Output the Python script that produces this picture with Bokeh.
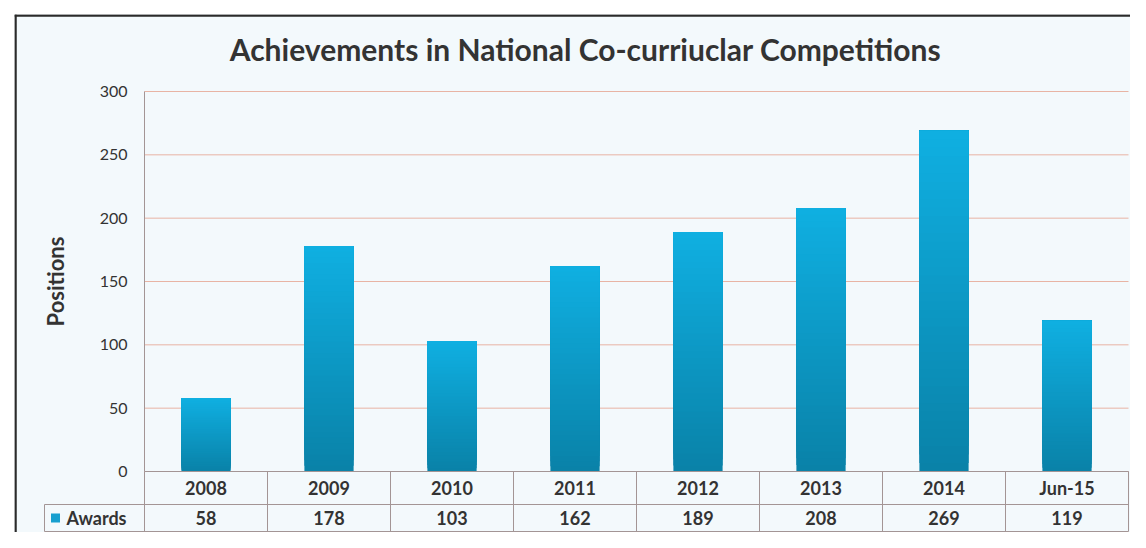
import numpy as np
from bokeh.plotting import figure
from bokeh.models import Range1d
from bokeh.core.properties import value
from bokeh.embed import file_html
from bokeh.resources import INLINE

# ---- data ----
title_text = "Achievements in National Co-curriuclar Competitions"
y_label = "Positions"
series_name = "Awards"
categories = ["2008", "2009", "2010", "2011", "2012", "2013", "2014", "Jun-15"]
awards = [58, 178, 103, 162, 189, 208, 269, 119]
y_ticks = [0, 50, 100, 150, 200, 250, 300]

# ---- style ----
FONT = "Lato"
BG = "#f3f9fc"
TEXT = "#333333"
GRID = "#e8b4a4"
TABLE_LINE = "#a39595"
FRAME_LINE = "#2a2a2a"
TOP_COLOR = np.array([16, 176, 226])
BOT_COLOR = np.array([10, 130, 168])
N_SLICES = 40
BAR_WIDTH = 0.4

# ---- layout (canvas pixels) ----
W, H = 1130, 532
PLOT_L, PLOT_R, PLOT_T, PLOT_B = 144, 1128, 91, 471     # plot area
BOX_L, BOX_T = 15, 15                                    # outer box corner
n = len(categories)
y_max = y_ticks[-1]
ux = (PLOT_R - PLOT_L) / n          # px per category
uy = (PLOT_B - PLOT_T) / y_max      # px per value unit


def cx(px):
    return (px - PLOT_L) / ux


def cy(py):
    return (PLOT_B - py) / uy


p = figure(width=W, height=H, x_range=Range1d(cx(BOX_L - 1), cx(W)), y_range=Range1d(cy(H), cy(BOX_T - 1)),
           output_backend="svg", toolbar_location=None,
           min_border_left=BOX_L - 1, min_border_right=0, min_border_top=BOX_T - 1, min_border_bottom=0,
           background_fill_color=BG, border_fill_color="#ffffff", outline_line_color=None)
p.axis.visible = False
p.grid.visible = False

# outer box (left and top edges)
p.segment(x0=[cx(BOX_L), cx(BOX_L - 1)], y0=[cy(H), cy(BOX_T)],
          x1=[cx(BOX_L), cx(W)], y1=[cy(BOX_T - 1), cy(BOX_T)],
          line_color=FRAME_LINE, line_width=2.5)

# title
p.text(x=[cx(585)], y=[cy(48)], text=[title_text], text_align="center",
       text_baseline="middle", text_font=value(FONT), text_font_size="30px", text_font_style="bold",
       text_color=TEXT)

# horizontal grid lines
p.segment(x0=[0] * len(y_ticks), y0=y_ticks, x1=[n] * len(y_ticks), y1=y_ticks,
          line_color=GRID, line_width=1)

# y tick labels and axis title
p.text(x=[cx(PLOT_L - 17)] * len(y_ticks), y=y_ticks, text=[str(v) for v in y_ticks],
       text_align="right", text_baseline="middle", text_font=value(FONT), text_font_size="16px",
       text_color=TEXT)
p.text(x=[cx(55)], y=[y_max / 2], text=[y_label], angle=np.pi / 2, text_align="center",
       text_baseline="middle", text_font=value(FONT), text_font_size="22px", text_font_style="bold",
       text_color=TEXT)

# gradient bars: overlapping slices, each from a fraction of the value up to the value
xs = np.arange(n) + 0.5
sx, sb, st, sc = [], [], [], []
for k in range(N_SLICES):
    f = (k + 0.5) / N_SLICES
    c = (BOT_COLOR + (TOP_COLOR - BOT_COLOR) * f).astype(int)
    col = "#%02x%02x%02x" % tuple(c)
    for x, v in zip(xs, awards):
        sx.append(x)
        sb.append(v * k / N_SLICES)
        st.append(v)
        sc.append(col)
p.vbar(x=sx, bottom=sb, top=st, width=BAR_WIDTH, fill_color=sc, line_color=None)

# ---- data table ----
ROW1_B, ROW2_B, TAB_L = 504, 531, 44      # canvas px
y_r1, y_r2 = cy(ROW1_B), cy(ROW2_B)
x_l = cx(TAB_L)
# horizontal lines
p.segment(x0=[0, x_l, x_l], y0=[0, y_r1, y_r2], x1=[n, n, n], y1=[0, y_r1, y_r2],
          line_color=TABLE_LINE, line_width=1)
# vertical lines (the first one continues up as the plot's left edge)
vx = list(range(n + 1))
p.segment(x0=vx, y0=[y_r2] * (n + 1), x1=vx, y1=[0] * (n + 1), line_color=TABLE_LINE, line_width=1)
p.segment(x0=[0], y0=[0], x1=[0], y1=[y_max], line_color=TABLE_LINE, line_width=1)
p.segment(x0=[x_l], y0=[y_r2], x1=[x_l], y1=[y_r1], line_color=TABLE_LINE, line_width=1)

p.text(x=xs, y=[y_r1 / 2] * n, text=categories, text_align="center", text_baseline="middle",
       text_font=value(FONT), text_font_size="18px", text_font_style="bold", text_color=TEXT)
p.text(x=xs, y=[(y_r1 + y_r2) / 2] * n, text=[str(v) for v in awards], text_align="center",
       text_baseline="middle", text_font=value(FONT), text_font_size="18px", text_font_style="bold",
       text_color=TEXT)
p.scatter(x=[cx(TAB_L + 11)], y=[(y_r1 + y_r2) / 2], marker="square", size=9,
          fill_color="#179fcf", line_color=None)
p.text(x=[cx(TAB_L + 22)], y=[(y_r1 + y_r2) / 2], text=[series_name], text_align="left",
       text_baseline="middle", text_font=value(FONT), text_font_size="18px", text_font_style="bold",
       text_color=TEXT)

open("out.html", "w").write(file_html(p, INLINE))
